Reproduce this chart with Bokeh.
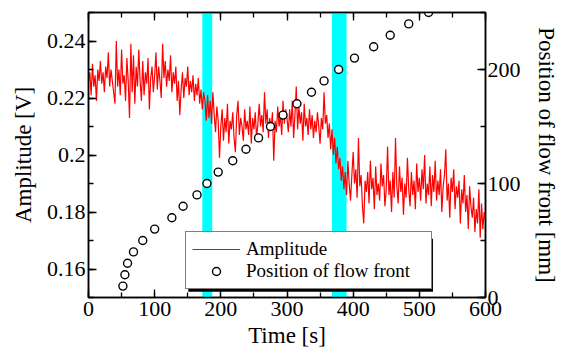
from bokeh.plotting import figure
from bokeh.models import (LinearAxis, Range1d, BoxAnnotation, Legend, LegendItem,
                          SingleIntervalTicker, PrintfTickFormatter, ColumnDataSource)
from bokeh.embed import file_html
from bokeh.resources import INLINE

# ---- data -------------------------------------------------------------
amp_t0 = 0
amp_dt = 2
amplitude = [
    0.226, 0.229, 0.221, 0.232, 0.224, 0.228, 0.219, 0.230, 0.226, 0.233,
    0.225, 0.229, 0.222, 0.231, 0.227, 0.236, 0.224, 0.230, 0.226, 0.222,
    0.218, 0.240, 0.224, 0.230, 0.221, 0.237, 0.225, 0.228, 0.219, 0.234,
    0.226, 0.213, 0.239, 0.222, 0.235, 0.218, 0.231, 0.224, 0.237, 0.226,
    0.219, 0.233, 0.221, 0.229, 0.225, 0.234, 0.216, 0.227, 0.231, 0.222,
    0.228, 0.236, 0.223, 0.231, 0.226, 0.220, 0.239, 0.227, 0.233, 0.224,
    0.230, 0.226, 0.235, 0.222, 0.229, 0.225, 0.231, 0.219, 0.226, 0.214,
    0.223, 0.229, 0.220, 0.227, 0.224, 0.231, 0.221, 0.226, 0.222, 0.228,
    0.219, 0.225, 0.221, 0.227, 0.218, 0.223, 0.216, 0.222, 0.219, 0.212,
    0.221, 0.213, 0.219, 0.211, 0.222, 0.214, 0.208, 0.217, 0.212, 0.199,
    0.210, 0.216, 0.205, 0.213, 0.208, 0.218, 0.204, 0.212, 0.209, 0.215,
    0.206, 0.201, 0.214, 0.219, 0.207, 0.213, 0.210, 0.205, 0.216, 0.209,
    0.212, 0.207, 0.217, 0.204, 0.213, 0.209, 0.215, 0.206, 0.211, 0.218,
    0.210, 0.214, 0.208, 0.222, 0.211, 0.216, 0.206, 0.213, 0.209, 0.215,
    0.198, 0.212, 0.208, 0.217, 0.210, 0.214, 0.207, 0.219, 0.211, 0.216,
    0.213, 0.208, 0.216, 0.210, 0.219, 0.206, 0.214, 0.224, 0.209, 0.217,
    0.211, 0.215, 0.205, 0.218, 0.210, 0.213, 0.207, 0.216, 0.209, 0.214,
    0.206, 0.212, 0.208, 0.215, 0.210, 0.204, 0.213, 0.209, 0.222, 0.211,
    0.214, 0.206, 0.211, 0.202, 0.209, 0.200, 0.206, 0.197, 0.203, 0.195,
    0.199, 0.191, 0.196, 0.188, 0.194, 0.186, 0.198, 0.190, 0.184, 0.193,
    0.201, 0.190, 0.195, 0.185, 0.206, 0.189, 0.193, 0.182, 0.176, 0.191,
    0.187, 0.194, 0.183, 0.198, 0.188, 0.192, 0.181, 0.196, 0.186, 0.190,
    0.184, 0.197, 0.189, 0.193, 0.182, 0.188, 0.203, 0.186, 0.191, 0.180,
    0.194, 0.185, 0.206, 0.189, 0.183, 0.196, 0.187, 0.192, 0.179, 0.190,
    0.185, 0.199, 0.188, 0.182, 0.194, 0.186, 0.191, 0.181, 0.197, 0.187,
    0.192, 0.184, 0.195, 0.188, 0.200, 0.183, 0.190, 0.186, 0.196, 0.182,
    0.193, 0.187, 0.198, 0.184, 0.191, 0.186, 0.195, 0.180, 0.189, 0.193,
    0.202, 0.184, 0.190, 0.178, 0.192, 0.187, 0.195, 0.181, 0.189, 0.185,
    0.191, 0.176, 0.188, 0.183, 0.193, 0.180, 0.186, 0.174, 0.189, 0.182,
    0.178, 0.185, 0.173, 0.181, 0.176, 0.188, 0.171, 0.183, 0.174, 0.180,
    0.177,
]
amp_time = [amp_t0 + i * amp_dt for i in range(len(amplitude))]

front_time = [52, 55, 59, 68, 82, 100, 126, 143, 164, 179, 196, 218, 238,
              257, 275, 294, 315, 337, 356, 378, 402, 431, 456, 484, 514]
front_pos = [10, 20, 30, 40, 50, 60, 70, 80, 90, 100, 110, 120, 130,
             140, 150, 160, 170, 180, 190, 200, 210, 220, 230, 240, 250]

band_1 = (172, 187)
band_2 = (368, 390)

x_range = (0, 600)
amp_range = (0.15, 0.25)
pos_range = (0, 250)

# ---- figure -----------------------------------------------------------
FONT = "Liberation Serif"

p = figure(width=561, height=351, x_range=x_range, y_range=amp_range,
           output_backend="svg", toolbar_location=None,
           min_border_left=88, min_border_right=75, min_border_top=12,
           min_border_bottom=54)
p.grid.visible = False
p.outline_line_color = "black"
p.outline_line_width = 1.5
p.background_fill_color = "white"
p.border_fill_color = "white"

p.extra_y_ranges = {"pos": Range1d(*pos_range)}

for lo, hi in (band_1, band_2):
    p.add_layout(BoxAnnotation(left=lo, right=hi, fill_color="#00ffff",
                               fill_alpha=1.0, line_color=None, level="underlay"))

amp_src = ColumnDataSource(dict(t=amp_time, a=amplitude))
line = p.line("t", "a", source=amp_src, line_color="red", line_width=1.2)

pos_src = ColumnDataSource(dict(t=front_time, y=front_pos))
circ = p.scatter("t", "y", source=pos_src, y_range_name="pos", size=8,
                 fill_color="white", line_color="black", line_width=1.4)


def style_axis(ax):
    ax.axis_line_color = "black"
    ax.axis_line_width = 1.5
    ax.major_tick_line_color = "black"
    ax.minor_tick_line_color = "black"
    ax.major_tick_line_width = 1.3
    ax.minor_tick_line_width = 1.3
    ax.major_tick_in = 8
    ax.major_tick_out = 0
    ax.minor_tick_in = 5
    ax.minor_tick_out = 0
    ax.major_label_text_font = FONT
    ax.major_label_text_font_size = "22px"
    ax.major_label_text_color = "black"
    ax.axis_label_text_font = FONT
    ax.axis_label_text_font_size = "23px"
    ax.axis_label_text_font_style = "normal"
    ax.axis_label_text_color = "black"


xa = p.xaxis[0]
xa.ticker = SingleIntervalTicker(interval=100, num_minor_ticks=2)
xa.axis_label = "Time [s]"
style_axis(xa)
xa.major_label_standoff = 4
xa.axis_label_standoff = 4

ya = p.yaxis[0]
ya.ticker = SingleIntervalTicker(interval=0.02, num_minor_ticks=2)
ya.formatter = PrintfTickFormatter(format="%g")
ya.axis_label = "Amplitude [V]"
style_axis(ya)
ya.major_label_standoff = 3
ya.axis_label_standoff = 8

ra = LinearAxis(y_range_name="pos",
                ticker=SingleIntervalTicker(interval=100, num_minor_ticks=2),
                axis_label="Position of flow front [mm]")
style_axis(ra)
ra.major_label_standoff = 2
ra.axis_label_standoff = 10
p.add_layout(ra, "right")

ta = LinearAxis(ticker=SingleIntervalTicker(interval=100, num_minor_ticks=2))
style_axis(ta)
ta.major_label_text_font_size = "1px"
ta.major_label_text_color = None
ta.major_label_standoff = 0
p.add_layout(ta, "above")

# legend shadow (offset box behind the legend)
p.add_layout(BoxAnnotation(left=150.8, right=520.6, bottom=0.1520, top=0.1706,
                           fill_color="black", fill_alpha=1.0, line_color=None))

legend = Legend(items=[LegendItem(label="Amplitude", renderers=[line]),
                       LegendItem(label="Position of flow front", renderers=[circ])],
                location=(97, 8))
legend.label_text_font = FONT
legend.label_text_font_size = "19px"
legend.label_text_color = "black"
legend.border_line_color = "black"
legend.border_line_width = 1.5
legend.background_fill_color = "white"
legend.background_fill_alpha = 1.0
legend.padding = 6
legend.spacing = 0
legend.margin = 0
legend.label_height = 20
legend.glyph_height = 20
legend.glyph_width = 48
legend.label_standoff = 6
legend.label_width = 179
p.add_layout(legend)

open("out.html", "w").write(file_html(p, INLINE))
